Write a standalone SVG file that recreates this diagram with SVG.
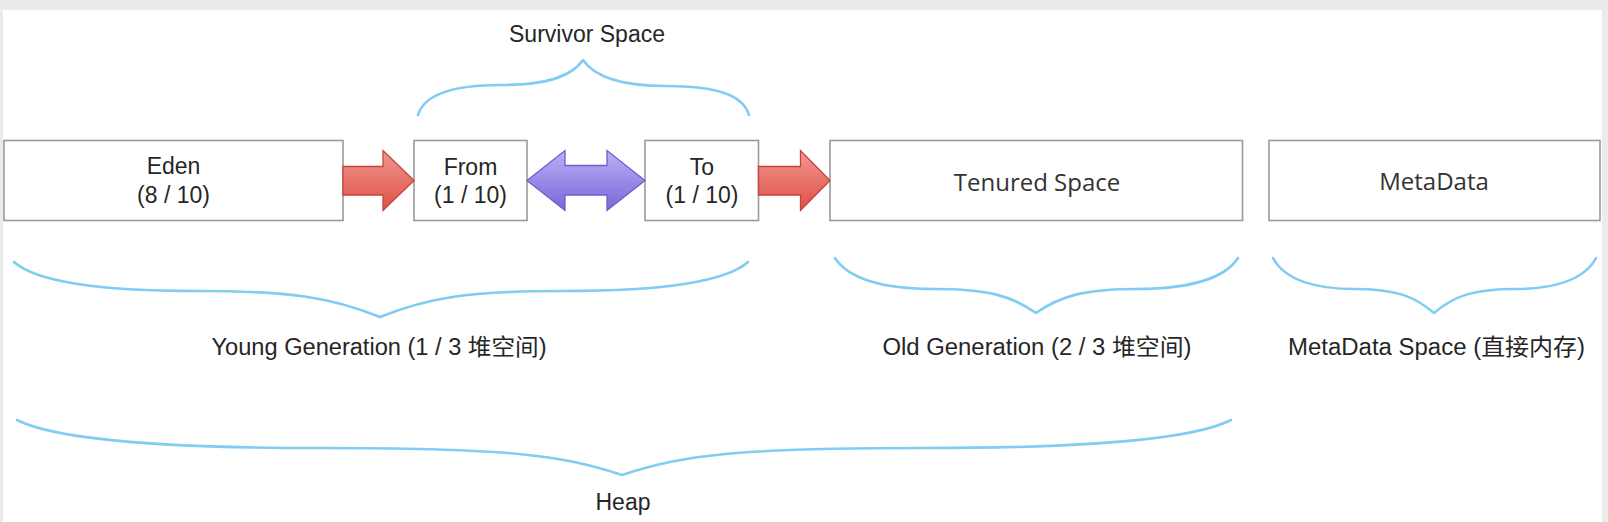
<svg xmlns="http://www.w3.org/2000/svg" width="1608" height="522" viewBox="0 0 1608 522">
<defs>
<linearGradient id="gRed" x1="0" y1="0" x2="0" y2="1">
<stop offset="0" stop-color="#f29890"/>
<stop offset="1" stop-color="#dd4f46"/>
</linearGradient>
<linearGradient id="gPurple" x1="0" y1="0" x2="0" y2="1">
<stop offset="0" stop-color="#bcaff5"/>
<stop offset="1" stop-color="#7a66d8"/>
</linearGradient>
</defs>
<style>
.box{fill:#ffffff;stroke:#9a9a9a;stroke-width:1.6}
.t{font-family:"Liberation Sans",Arial,"Noto Sans CJK SC",sans-serif;font-size:23px;fill:#262626;text-anchor:middle}
.o{font-family:"Open Sans","Noto Sans",sans-serif;font-size:24px;fill:#333333;text-anchor:middle}
.brace{fill:none;stroke:#80ccf2;stroke-width:2.6;stroke-linecap:round;stroke-linejoin:round}
.red{fill:url(#gRed);stroke:#c8423a;stroke-width:1.3}
.purple{fill:url(#gPurple);stroke:#6e5dcc;stroke-width:1.3}
</style>
<rect x="0" y="0" width="1608" height="522" fill="#ebebeb"/>
<rect x="3" y="10" width="1599" height="512" fill="#ffffff"/>

<g id="eden">
<rect class="box" x="4" y="140.5" width="339" height="80"/>
<text class="t" x="173.5" y="174">Eden</text>
<text class="t" x="173.5" y="202.5">(8 / 10)</text>
</g>
<g id="from">
<rect class="box" x="414" y="140.5" width="113" height="80"/>
<text class="t" x="470.5" y="175">From</text>
<text class="t" x="470.5" y="203">(1 / 10)</text>
</g>
<g id="to">
<rect class="box" x="645" y="140.5" width="113.5" height="80"/>
<text class="t" x="702" y="175">To</text>
<text class="t" x="702" y="203">(1 / 10)</text>
</g>
<g id="tenured">
<rect class="box" x="830" y="140.5" width="412.5" height="80"/>
<text class="o" x="1037" y="191">Tenured Space</text>
</g>
<g id="metadata">
<rect class="box" x="1269" y="140.5" width="331" height="80"/>
<text class="o" x="1434" y="190">MetaData</text>
</g>

<g id="connectors">
<path class="red" d="M343,166.5 L383,166.5 L383,150.5 L414,180.5 L383,210.5 L383,195 L343,195 Z"/>
<path class="purple" d="M527,180.5 L565,150.5 L565,165.5 L607,165.5 L607,150.5 L645,180.5 L607,210.5 L607,195 L565,195 L565,210.5 Z"/>
<path class="red" d="M758.5,166.5 L800.5,166.5 L800.5,150.5 L830,180.5 L800.5,210.5 L800.5,195 L758.5,195 Z"/>
</g>

<g id="survivor-space">
<path class="brace" d="M418,115 C424,95 450,85 501,85 C540,85 570,79 583,60 C596,79 626,86 666,86 C717,86 743,95 749,115"/>
<text class="t" x="587" y="42" font-size="22">Survivor Space</text>
</g>
<g id="young-generation">
<path class="brace" d="M14,262 C40,285 120,291 197,291 C290,291 330,297 380,317 C430,297 470,291 564,291 C641,291 722,285 748,262"/>
<text class="t" x="379" y="355" textLength="335" lengthAdjust="spacingAndGlyphs">Young Generation (1 / 3 堆空间)</text>
</g>
<g id="old-generation">
<path class="brace" d="M835,258 C850,281 890,289 935,289 C988,289 1012,296 1036,313 C1060,296 1085,289 1137,289 C1182,289 1223,281 1238,258"/>
<text class="t" x="1037" y="355" textLength="309" lengthAdjust="spacingAndGlyphs">Old Generation (2 / 3 堆空间)</text>
</g>
<g id="metadata-space">
<path class="brace" d="M1273,258 C1285,281 1318,289 1354,289 C1396,289 1414,296 1434,313 C1454,296 1473,289 1515,289 C1551,289 1584,281 1596,258"/>
<text class="t" x="1436.5" y="355" textLength="297" lengthAdjust="spacingAndGlyphs">MetaData Space (直接内存)</text>
</g>
<g id="heap">
<path class="brace" d="M17,420 C60,442 180,448 320,448 C510,448 560,455 622,475 C684,455 734,448 925,448 C1066,448 1188,442 1231,420"/>
<text class="t" x="623" y="510">Heap</text>
</g>
</svg>
